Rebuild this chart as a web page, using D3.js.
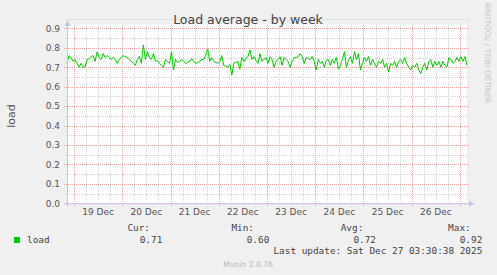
<!DOCTYPE html>
<html>
<head>
<meta charset="utf-8">
<script src="https://cdn.jsdelivr.net/npm/d3@7"></script>
<style>
  html, body { margin: 0; padding: 0; background: #f0f0f0; }
  svg { display: block; }
</style>
</head>
<body>
<div id="chart"></div>
<script>
// hourly load values, 18 Dec 20:30 -> 27 Dec 03:30 (UTC)
const loadValues = [
  0.72, 0.76, 0.75, 0.73, 0.74, 0.72, 0.70, 0.72, 0.70, 0.70,
  0.74, 0.745, 0.755, 0.76, 0.73, 0.78, 0.75, 0.74, 0.77, 0.75,
  0.76, 0.75, 0.74, 0.75, 0.74, 0.72, 0.74, 0.75, 0.76, 0.755,
  0.75, 0.74, 0.73, 0.72, 0.71, 0.74, 0.755, 0.72, 0.815, 0.74,
  0.78, 0.75, 0.74, 0.77, 0.73, 0.735, 0.72, 0.71, 0.70, 0.74,
  0.73, 0.72, 0.78, 0.686, 0.74, 0.725, 0.73, 0.74, 0.73, 0.72,
  0.725, 0.73, 0.745, 0.73, 0.72, 0.725, 0.73, 0.74, 0.74, 0.76,
  0.795, 0.73, 0.75, 0.73, 0.725, 0.72, 0.73, 0.76, 0.71, 0.705,
  0.70, 0.715, 0.66, 0.72, 0.725, 0.73, 0.69, 0.75, 0.73, 0.745,
  0.755, 0.79, 0.74, 0.755, 0.735, 0.72, 0.77, 0.73, 0.74, 0.75,
  0.72, 0.755, 0.74, 0.70, 0.73, 0.74, 0.755, 0.71, 0.75, 0.74,
  0.73, 0.70, 0.73, 0.75, 0.75, 0.755, 0.77, 0.755, 0.72, 0.75,
  0.745, 0.74, 0.755, 0.73, 0.686, 0.74, 0.72, 0.73, 0.70, 0.735,
  0.74, 0.71, 0.74, 0.72, 0.75, 0.69, 0.71, 0.74, 0.78, 0.70,
  0.735, 0.755, 0.72, 0.78, 0.74, 0.77, 0.686, 0.72, 0.75, 0.73,
  0.755, 0.71, 0.74, 0.72, 0.70, 0.73, 0.72, 0.74, 0.70, 0.72,
  0.676, 0.72, 0.71, 0.73, 0.70, 0.73, 0.74, 0.72, 0.75, 0.72,
  0.70, 0.686, 0.71, 0.70, 0.72, 0.686, 0.668, 0.70, 0.72, 0.686,
  0.73, 0.74, 0.70, 0.73, 0.71, 0.73, 0.70, 0.73, 0.71, 0.70,
  0.75, 0.74, 0.72, 0.73, 0.75, 0.73, 0.755, 0.73, 0.755, 0.71
];
const yTicks = [0.0, 0.1, 0.2, 0.3, 0.4, 0.5, 0.6, 0.7, 0.8, 0.9];
const statLabels = ["Cur:", "Min:", "Avg:", "Max:"];
const statValues = ["0.71", "0.60", "0.72", "0.92"];
const seriesName = "load";
const lastUpdate = "Last update: Sat Dec 27 03:30:38 2025";

const W = 497, H = 275;
const plot = {left: 67, right: 467, top: 24.5, bottom: 203.3};

const start = new Date(Date.UTC(2025, 11, 18, 20, 30));
const end = new Date(Date.UTC(2025, 11, 27, 3, 30));

const data = loadValues.map((v, i) => ({t: d3.utcHour.offset(start, i), v: v}));

const x = d3.scaleUtc().domain([start, end]).range([plot.left, plot.right]);
const y = d3.scaleLinear().domain([0, 0.92]).range([plot.bottom, plot.top]);

const svg = d3.select('#chart').append('svg')
  .attr('width', W)
  .attr('height', H)
  .style('font-family', 'DejaVu Sans, sans-serif');

svg.append('rect').attr('width', W).attr('height', H).attr('fill', '#f0f0f0');

// plot canvas
svg.append('rect')
  .attr('x', plot.left).attr('y', plot.top)
  .attr('width', plot.right - plot.left)
  .attr('height', plot.bottom - plot.top)
  .attr('fill', '#ffffff');

const grid = svg.append('g').attr('shape-rendering', 'crispEdges');

// minor grid
const minorX = d3.utcHour.every(6).range(start, end).filter(d => d.getUTCHours() !== 0);
grid.selectAll('.vminor').data(minorX).enter().append('line')
  .attr('x1', d => Math.round(x(d)) + 0.5).attr('x2', d => Math.round(x(d)) + 0.5)
  .attr('y1', plot.top).attr('y2', plot.bottom + 2)
  .attr('stroke', '#d4d4d4').attr('stroke-dasharray', '1,1');

const minorY = yTicks.map(v => v + 0.05);
grid.selectAll('.hminor').data(minorY).enter().append('line')
  .attr('x1', plot.left - 2).attr('x2', plot.right + 2)
  .attr('y1', d => Math.round(y(d)) + 0.5).attr('y2', d => Math.round(y(d)) + 0.5)
  .attr('stroke', '#d4d4d4').attr('stroke-dasharray', '1,1');

// major grid
const days = d3.utcDay.range(start, end);
grid.selectAll('.vmajor').data(days).enter().append('line')
  .attr('x1', d => Math.round(x(d)) + 0.5).attr('x2', d => Math.round(x(d)) + 0.5)
  .attr('y1', plot.top).attr('y2', plot.bottom + 3)
  .attr('stroke', '#eaa8a8').attr('stroke-dasharray', '1,1');

grid.selectAll('.hmajor').data(yTicks).enter().append('line')
  .attr('x1', plot.left - 3).attr('x2', plot.right + 2)
  .attr('y1', d => Math.round(y(d)) + 0.5).attr('y2', d => Math.round(y(d)) + 0.5)
  .attr('stroke', '#eaa8a8').attr('stroke-dasharray', '1,1');

// tick labels
svg.selectAll('.ylab').data(yTicks).enter().append('text')
  .attr('x', 60).attr('y', d => y(d) + 3.3)
  .attr('text-anchor', 'end')
  .attr('font-size', 9).attr('fill', '#555')
  .text(d3.format('.1f'));

svg.selectAll('.xlab').data(days.filter(d => x(d3.utcHour.offset(d, 12)) < plot.right)).enter().append('text')
  .attr('x', d => x(d3.utcHour.offset(d, 12)))
  .attr('y', 215)
  .attr('text-anchor', 'middle')
  .attr('font-size', 9).attr('fill', '#555')
  .text(d3.utcFormat('%d %b'));

// the series
const line = d3.line().x(d => x(d.t)).y(d => y(d.v));
svg.append('path').datum(data)
  .attr('d', line)
  .attr('fill', 'none')
  .attr('stroke', '#00cc00')
  .attr('stroke-width', 1);

// axes with arrows
const axisCol = '#c4c4f0';
svg.append('line')
  .attr('x1', plot.left + 0.5).attr('x2', plot.left + 0.5)
  .attr('y1', plot.bottom + 3).attr('y2', 24)
  .attr('stroke', axisCol);
svg.append('path')
  .attr('d', `M${plot.left - 2.5},26 L${plot.left + 0.5},20.5 L${plot.left + 3.5},26 Z`)
  .attr('fill', axisCol);
svg.append('line')
  .attr('x1', plot.left - 3).attr('x2', plot.right + 4)
  .attr('y1', plot.bottom + 0.5).attr('y2', plot.bottom + 0.5)
  .attr('stroke', axisCol);
svg.append('path')
  .attr('d', `M${plot.right + 2},${plot.bottom - 2.5} L${plot.right + 7.5},${plot.bottom + 0.5} L${plot.right + 2},${plot.bottom + 3.5} Z`)
  .attr('fill', axisCol);

// title
svg.append('text')
  .attr('x', 248).attr('y', 24)
  .attr('text-anchor', 'middle')
  .attr('font-size', 12.5).attr('fill', '#444')
  .text('Load average - by week');

// vertical label
svg.append('text')
  .attr('transform', 'translate(15,116) rotate(-90)')
  .attr('text-anchor', 'middle')
  .attr('font-size', 11).attr('fill', '#555')
  .text(seriesName);

svg.append('text')
  .attr('transform', 'translate(485,53) rotate(90)')
  .attr('text-anchor', 'middle')
  .attr('font-size', 7.8).attr('fill', '#c8c8c8')
  .text('RRDTOOL / TOBI OETIKER');

// legend
const mono = 'DejaVu Sans Mono, monospace';
svg.append('rect')
  .attr('x', 14).attr('y', 237).attr('width', 6).attr('height', 6)
  .attr('fill', '#00cc00');
svg.append('text')
  .attr('x', 27).attr('y', 242.7)
  .attr('font-family', mono).attr('font-size', 9.4).attr('fill', '#444')
  .text(seriesName);

const labelEnds = [150, 254, 363.3, 470.7];
const valueEnds = [162.3, 269.3, 376, 482.3];
svg.selectAll('.slab').data(statLabels).enter().append('text')
  .attr('x', (d, i) => labelEnds[i]).attr('y', 230.7)
  .attr('text-anchor', 'end')
  .attr('font-family', mono).attr('font-size', 9.4).attr('fill', '#444')
  .text(d => d);
svg.selectAll('.sval').data(statValues).enter().append('text')
  .attr('x', (d, i) => valueEnds[i]).attr('y', 242.7)
  .attr('text-anchor', 'end')
  .attr('font-family', mono).attr('font-size', 9.4).attr('fill', '#444')
  .text(d => d);

svg.append('text')
  .attr('x', 482.3).attr('y', 254.3)
  .attr('text-anchor', 'end')
  .attr('font-family', mono).attr('font-size', 9.4).attr('fill', '#444')
  .text(lastUpdate);

svg.append('text')
  .attr('x', 248).attr('y', 266.7)
  .attr('text-anchor', 'middle')
  .attr('font-size', 7.6).attr('fill', '#bbb')
  .text('Munin 2.0.76');
</script>
</body>
</html>
